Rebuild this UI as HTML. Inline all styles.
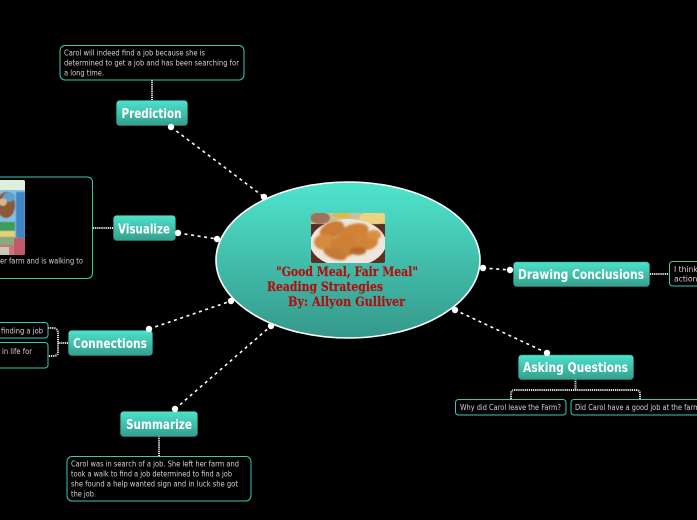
<!DOCTYPE html>
<html><head><meta charset="utf-8"><style>
html,body{margin:0;padding:0;background:#000;width:697px;height:520px;overflow:hidden}
svg{display:block}
.n{font:bold 13px "DejaVu Sans",sans-serif;fill:#fff}
.t{font:7.6px "DejaVu Sans",sans-serif;fill:#d2d2d2}
.ti{font:bold 13px "DejaVu Serif","Liberation Serif",serif;fill:#b30d0d;stroke:#b30d0d;stroke-width:.15}
.b{fill:#000;stroke:#3cc9b3;stroke-width:1}
.nb{fill:url(#ng);stroke:#2f8f80;stroke-width:.5}
.c{fill:none;stroke:#fff;stroke-width:1.6;stroke-dasharray:3 3.6}
.s{fill:none;stroke:#e6e6e6;stroke-width:2;stroke-dasharray:1.2 .9}
.d{fill:#fff}
</style></head><body>
<svg width="697" height="520" viewBox="0 0 697 520" xmlns="http://www.w3.org/2000/svg">
<defs>
<linearGradient id="ng" x1="0" y1="0" x2="0" y2="1"><stop offset="0" stop-color="#4de2cb"/><stop offset="1" stop-color="#349e8d"/></linearGradient>
<linearGradient id="eg" x1="0" y1="0" x2="0" y2="1"><stop offset="0" stop-color="#4fe5ce"/><stop offset="1" stop-color="#35988a"/></linearGradient>
<filter id="bl"><feGaussianBlur stdDeviation="1"/></filter>
<filter id="bl2"><feGaussianBlur stdDeviation=".6"/></filter>
<clipPath id="fc"><rect x="311" y="213" width="74" height="50" rx="2"/></clipPath>
<clipPath id="vc"><rect x="-5" y="180" width="30" height="75" rx="2"/></clipPath>
</defs>
<rect width="697" height="520" fill="#000"/>

<!-- main connectors -->
<path class="c" d="M171 127L264 197"/>
<path class="c" d="M178 233L217 239"/>
<path class="c" d="M149 329L231 301"/>
<path class="c" d="M175 409L271 326"/>
<path class="c" d="M483 268L510 270"/>
<path class="c" d="M547 353L455 310"/>

<!-- sub connectors -->
<path class="s" d="M152 80V100"/>
<path class="s" d="M93 228H113"/>
<path class="s" d="M68 343H58"/>
<path class="s" d="M48 328H53Q58 328 58 334V352Q58 356 53 356H48"/>
<path class="s" d="M159 436V456"/>
<path class="s" d="M650 274H669"/>
<path class="s" d="M575.500 379V390"/>
<path class="s" d="M511 399V394Q511 390 515 390H636Q640 390 640 394V399"/>

<!-- central -->
<ellipse cx="348" cy="260" rx="132" ry="78" fill="url(#eg)" stroke="#fff" stroke-width="1.6"/>
<g clip-path="url(#fc)">
<rect x="311" y="213" width="74" height="50" fill="#5a3020"/>
<rect x="311" y="213" width="74" height="11" fill="#c9c09a"/>
<ellipse cx="320" cy="218" rx="10" ry="6" fill="#a0705a" filter="url(#bl2)"/>
<ellipse cx="374" cy="218" rx="15" ry="6" fill="#ecd47e" filter="url(#bl2)"/>
<ellipse cx="342" cy="215" rx="9" ry="3" fill="#e2b93e" filter="url(#bl2)"/>
<ellipse cx="348" cy="243" rx="38" ry="24" fill="#eee6dc"/>
<g filter="url(#bl)">
<ellipse cx="332" cy="230" rx="13" ry="8" fill="#c97d35" transform="rotate(-25 332 230)"/>
<ellipse cx="354" cy="232" rx="15" ry="8" fill="#cf8238" transform="rotate(-15 354 232)"/>
<ellipse cx="325" cy="242" rx="11" ry="8" fill="#d58a3e"/>
<ellipse cx="344" cy="246" rx="13" ry="11" fill="#cc7f35"/>
<ellipse cx="366" cy="241" rx="12" ry="9" fill="#d08438"/>
<ellipse cx="335" cy="254" rx="12" ry="5" fill="#c47a34" transform="rotate(20 335 254)"/>
<ellipse cx="374" cy="235" rx="7" ry="5" fill="#d89044"/>
<ellipse cx="358" cy="251" rx="8" ry="4" fill="#b8692c"/>
</g>
</g>
<text class="ti" x="276" y="276" textLength="142" lengthAdjust="spacingAndGlyphs">"Good Meal, Fair Meal"</text>
<text class="ti" x="267" y="291" textLength="116" lengthAdjust="spacingAndGlyphs">Reading Strategies</text>
<text class="ti" x="288" y="306" textLength="117" lengthAdjust="spacingAndGlyphs">By: Allyon Gulliver</text>

<!-- nodes -->
<rect class="nb" x="116.500" y="100.500" width="71" height="25" rx="3"/>
<text class="n" x="121.500" y="118" textLength="60" lengthAdjust="spacingAndGlyphs">Prediction</text>
<rect class="nb" x="113.500" y="215.500" width="62" height="25" rx="3"/>
<text class="n" x="118" y="233.500" textLength="52" lengthAdjust="spacingAndGlyphs">Visualize</text>
<rect class="nb" x="68.500" y="330.500" width="84" height="25" rx="3"/>
<text class="n" x="73" y="348" textLength="74" lengthAdjust="spacingAndGlyphs">Connections</text>
<rect class="nb" x="120.500" y="411.500" width="77" height="25" rx="3"/>
<text class="n" x="126" y="429" textLength="66" lengthAdjust="spacingAndGlyphs">Summarize</text>
<rect class="nb" x="513.500" y="262" width="136" height="24.500" rx="3"/>
<text class="n" x="518" y="279" textLength="126" lengthAdjust="spacingAndGlyphs">Drawing Conclusions</text>
<rect class="nb" x="518.500" y="355" width="115" height="24.500" rx="3"/>
<text class="n" x="523" y="372" textLength="105" lengthAdjust="spacingAndGlyphs">Asking Questions</text>

<!-- dots -->
<circle class="d" cx="171" cy="127" r="3.200"/><circle class="d" cx="264" cy="197" r="3.200"/>
<circle class="d" cx="178" cy="233" r="3.200"/><circle class="d" cx="217" cy="239" r="3.200"/>
<circle class="d" cx="149" cy="329" r="3.200"/><circle class="d" cx="231" cy="301" r="3.200"/>
<circle class="d" cx="175" cy="409" r="3.200"/><circle class="d" cx="271" cy="326" r="3.200"/>
<circle class="d" cx="483" cy="268" r="3.200"/><circle class="d" cx="510" cy="270" r="3.200"/>
<circle class="d" cx="547" cy="353" r="3.200"/><circle class="d" cx="455" cy="310" r="3.200"/>

<!-- prediction box -->
<rect class="b" x="60" y="45.500" width="184" height="34.500" rx="5"/>
<text class="t" x="64" y="55.500" textLength="141" lengthAdjust="spacingAndGlyphs">Carol will indeed find a job because she is</text>
<text class="t" x="64" y="65.500" textLength="175" lengthAdjust="spacingAndGlyphs">determined to get a job and has been searching for</text>
<text class="t" x="64" y="75.500" textLength="40" lengthAdjust="spacingAndGlyphs">a long time.</text>

<!-- visualize box -->
<rect class="b" x="-20" y="177" width="112.500" height="101.500" rx="5"/>
<g clip-path="url(#vc)">
<rect x="-5" y="180" width="30" height="75" fill="#86bfe6"/>
<rect x="-5" y="180" width="30" height="10" fill="#e0eedc"/>
<rect x="16" y="192" width="9" height="46" fill="#3f86c4" filter="url(#bl2)"/>
<ellipse cx="6" cy="205" rx="9" ry="13" fill="#8a5a38" filter="url(#bl2)"/>
<ellipse cx="9" cy="197" rx="6" ry="5" fill="#5f9fd0" filter="url(#bl2)"/>
<ellipse cx="3" cy="202" rx="4" ry="4" fill="#d9b48c" filter="url(#bl2)"/>
<rect x="-5" y="222" width="20" height="9" fill="#3d9c5a" filter="url(#bl2)"/>
<rect x="-5" y="231" width="20" height="6" fill="#e8d070" filter="url(#bl2)"/>
<rect x="-5" y="237" width="22" height="10" fill="#8aa878" filter="url(#bl2)"/>
<rect x="-5" y="245" width="30" height="10" fill="#c9767c"/>
<rect x="14" y="238" width="11" height="17" fill="#c25a6a"/>
<rect x="-5" y="247" width="14" height="8" fill="#c9c9b8"/>
</g>
<text class="t" x="0" y="263.500" textLength="83" lengthAdjust="spacingAndGlyphs">er farm and is walking to</text>

<!-- connections boxes -->
<rect class="b" x="-20" y="322.500" width="68" height="15.500" rx="3"/>
<text class="t" x="1" y="333.500" textLength="42" lengthAdjust="spacingAndGlyphs">finding a job</text>
<rect class="b" x="-20" y="342.500" width="68" height="25.500" rx="3"/>
<text class="t" x="2" y="354" textLength="30" lengthAdjust="spacingAndGlyphs">in life for</text>
<text class="t" x="-2" y="364">.</text>

<!-- summarize box -->
<rect class="b" x="67" y="456.500" width="184" height="44.500" rx="5"/>
<text class="t" x="71" y="466.500" textLength="168" lengthAdjust="spacingAndGlyphs">Carol was in search of a job. She left her farm and</text>
<text class="t" x="71" y="476.500" textLength="161" lengthAdjust="spacingAndGlyphs">took a walk to find a job determined to find a job</text>
<text class="t" x="71" y="486.500" textLength="167" lengthAdjust="spacingAndGlyphs">she found a help wanted sign and in luck she got</text>
<text class="t" x="71" y="496.500" textLength="25" lengthAdjust="spacingAndGlyphs">the job.</text>

<!-- drawing conclusions box -->
<rect class="b" x="669.500" y="261.500" width="60" height="24.500" rx="3"/>
<text class="t" x="674" y="272">I think</text>
<text class="t" x="674" y="281.500">actions</text>

<!-- asking boxes -->
<rect class="b" x="455.500" y="399.500" width="110.500" height="15.500" rx="3"/>
<text class="t" x="460" y="410" textLength="101" lengthAdjust="spacingAndGlyphs">Why did Carol leave the Farm?</text>
<rect class="b" x="571" y="399.500" width="140" height="15.500" rx="3"/>
<text class="t" x="575" y="410" textLength="128" lengthAdjust="spacingAndGlyphs">Did Carol have a good job at the farm?</text>
</svg>
</body></html>
